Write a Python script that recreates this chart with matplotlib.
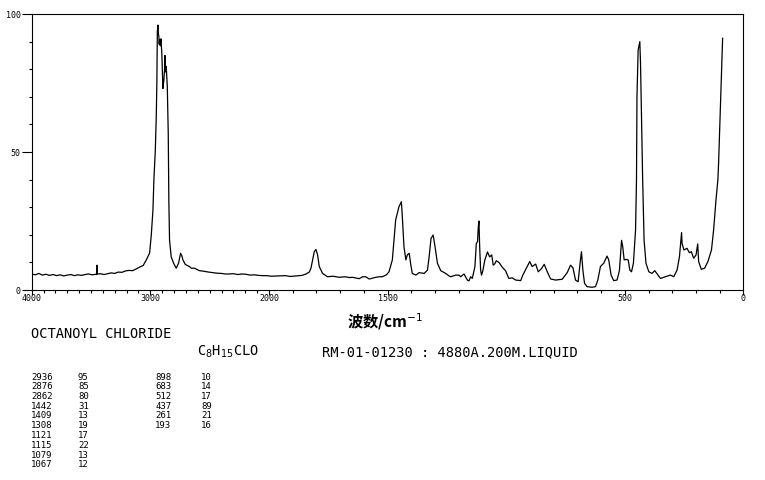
import numpy as np
import matplotlib
matplotlib.use("Agg")
import matplotlib.pyplot as plt
from matplotlib.ticker import FixedLocator, FixedFormatter

# ---------------- data ----------------
wavenumber = [
    4000, 3970, 3940, 3910, 3880, 3850, 3820, 3790, 3760, 3730, 3700, 3670, 3640, 3610,
    3580, 3550, 3520, 3490, 3460, 3452, 3449, 3446, 3420, 3390, 3360, 3330, 3300, 3270,
    3240, 3210, 3180, 3150, 3120, 3090, 3060, 3034, 3006, 2992, 2978, 2970, 2958, 2950,
    2945, 2941, 2936, 2932, 2928, 2925, 2922, 2916, 2911, 2903, 2894, 2886, 2880, 2877,
    2872, 2866, 2857, 2849, 2844, 2838, 2824, 2804, 2782, 2762, 2745, 2735, 2726, 2706,
    2690, 2670, 2655, 2628, 2586, 2550, 2510, 2474, 2440, 2400, 2370, 2334, 2300, 2260,
    2230, 2193, 2160, 2120, 2090, 2054, 2020, 1990, 1957, 1930, 1910, 1886, 1860, 1844,
    1830, 1823, 1816, 1809, 1802, 1795, 1788, 1774, 1753, 1730, 1704, 1680, 1660, 1648,
    1620, 1605, 1592, 1578, 1571, 1555, 1536, 1522, 1505, 1494, 1480, 1466, 1452, 1442,
    1438, 1431, 1423, 1417, 1409, 1402, 1396, 1381, 1367, 1346, 1332, 1325, 1317, 1308,
    1300, 1290, 1276, 1255, 1241, 1234, 1213, 1199, 1192, 1178, 1164, 1157, 1150, 1143,
    1136, 1132, 1126, 1121, 1118, 1115, 1112, 1108, 1104, 1098, 1090, 1079, 1070, 1061,
    1055, 1048, 1042, 1031, 1017, 1003, 989, 975, 960, 939, 930, 916, 901, 891,
    876, 865, 851, 840, 827, 813, 792, 764, 743, 729, 719, 708, 697, 688,
    683, 677, 670, 659, 638, 624, 614, 603, 589, 575, 568, 558, 547, 533,
    523, 514, 509, 503, 495, 486, 479, 472, 464, 455, 451, 449, 444, 437,
    434, 430, 425, 419, 411, 399, 386, 374, 360, 350, 329, 308, 294, 280,
    270, 261, 259, 251, 238, 228, 220, 210, 200, 193, 189, 178, 164, 150,
    135, 126, 116, 108, 105, 96, 88,
]
intensity = [
    5.8, 5.5, 6.0, 5.4, 5.7, 5.3, 5.6, 5.2, 5.5, 5.1, 5.4, 5.6, 5.2, 5.5,
    5.3, 5.6, 5.8, 5.5, 5.7, 5.6, 9.0, 5.8, 5.9, 5.6, 5.9, 6.2, 6.0, 6.5,
    6.4, 6.9, 7.1, 7.0, 7.6, 8.3, 8.9, 10.9, 13.4, 19.9, 29.0, 39.9, 50.7, 62.8,
    75.0, 93.6, 96.0, 93.0, 91.8, 89.0, 90.6, 88.5, 91.0, 85.8, 73.0, 76.0, 80.0, 85.0,
    79.0, 81.0, 73.7, 56.8, 32.6, 18.0, 12.0, 9.7, 7.9, 9.7, 13.3, 12.5, 11.0, 9.3,
    8.9, 8.5, 7.9, 7.9, 7.0, 6.8, 6.5, 6.3, 6.1, 6.0, 5.8, 5.8, 5.9, 5.6,
    5.8, 5.7, 5.4, 5.5, 5.3, 5.2, 5.2, 5.0, 5.1, 5.2, 4.9, 5.1, 5.3, 5.8,
    6.5, 7.9, 10.9, 13.9, 14.7, 12.7, 8.5, 6.0, 4.8, 5.0, 4.6, 4.8, 4.5, 4.6,
    4.1, 4.8, 4.8, 4.0, 4.1, 4.5, 4.8, 4.8, 5.5, 6.6, 10.9, 25.4, 30.2, 32.0,
    26.6, 15.7, 10.9, 12.7, 13.3, 9.0, 6.0, 5.4, 6.3, 6.0, 7.2, 12.0, 18.7, 19.9,
    15.7, 9.7, 7.0, 6.0, 5.1, 4.8, 5.4, 5.4, 4.8, 5.8, 3.6, 3.3, 4.8, 4.2,
    7.0, 8.5, 16.9, 17.5, 22.5, 25.0, 15.7, 7.2, 5.4, 7.2, 10.9, 13.8, 12.0, 12.7,
    9.0, 9.5, 10.6, 10.0, 8.3, 7.0, 4.2, 4.4, 3.6, 3.4, 5.4, 7.8, 10.3, 8.5,
    9.4, 6.6, 7.8, 9.3, 6.6, 4.0, 3.6, 3.9, 6.3, 9.0, 8.1, 3.6, 3.0, 10.3,
    13.9, 7.2, 2.4, 1.2, 1.0, 1.2, 3.6, 8.5, 9.7, 12.3, 10.9, 5.4, 3.4, 3.6,
    7.0, 18.0, 15.7, 10.9, 11.1, 10.9, 7.2, 6.6, 9.7, 21.7, 39.9, 70.0, 87.0, 90.0,
    82.0, 64.0, 39.9, 18.0, 9.7, 6.6, 6.0, 7.0, 5.4, 4.2, 4.8, 5.4, 4.8, 7.2,
    12.0, 20.8, 16.9, 14.5, 15.1, 13.5, 13.9, 11.5, 12.7, 16.7, 10.3, 7.5, 7.9, 10.3,
    14.5, 21.7, 32.6, 39.9, 45.9, 70.0, 91.2,
]

x_major_ticks = [4000, 3000, 2000, 1500, 500, 0]
x_major_labels = ["4000", "3000", "2000", "1500", "500", "0"]
y_major_ticks = [0, 50, 100]
y_major_labels = ["0", "50", "100"]

compound = "OCTANOYL CHLORIDE"
formula = r"C$_8$H$_{15}$CLO"
sample_info = "RM-01-01230 : 4880A.200M.LIQUID"
xlabel = "波数/cm$^{-1}$"

peak_wn_1 = ["2936", "2876", "2862", "1442", "1409", "1308", "1121", "1115", "1079", "1067"]
peak_int_1 = ["95", "85", "80", "31", "13", "19", "17", "22", "13", "12"]
peak_wn_2 = ["898", "683", "512", "437", "261", "193"]
peak_int_2 = ["10", "14", "17", "89", "21", "16"]

# ---------------- figure ----------------
W, H = 765, 480
fig = plt.figure(figsize=(W / 100, H / 100), dpi=100)
fig.patch.set_facecolor("white")

left_px, right_px, top_px, bot_px = 31.7, 743.5, 14, 290
ax = fig.add_axes([left_px / W, 1 - bot_px / H, (right_px - left_px) / W, (bot_px - top_px) / H])


def fwd(x):
    x = np.asarray(x, dtype=float)
    return np.where(x > 2000, 2000 + (x - 2000) / 2.0, x)


def inv(u):
    u = np.asarray(u, dtype=float)
    return np.where(u > 2000, 2000 + (u - 2000) * 2.0, u)


ax.set_xscale("function", functions=(fwd, inv))
ax.plot(wavenumber, intensity, color="black", lw=0.9)
ax.set_xlim(4000, 0)
ax.set_ylim(0, 100)

mono = "DejaVu Sans Mono"
ax.xaxis.set_major_locator(FixedLocator(x_major_ticks))
ax.xaxis.set_major_formatter(FixedFormatter(x_major_labels))
ax.xaxis.set_minor_locator(FixedLocator([v for v in range(100, 4000, 100) if v not in x_major_ticks]))
ax.yaxis.set_major_locator(FixedLocator(y_major_ticks))
ax.yaxis.set_major_formatter(FixedFormatter(y_major_labels))
ax.yaxis.set_minor_locator(FixedLocator([v for v in range(10, 100, 10) if v != 50]))

ax.tick_params(axis="x", which="major", direction="out", length=3.8, width=0.8, pad=-1.0,
               labelsize=6)
ax.tick_params(axis="x", which="minor", direction="out", length=2.0, width=0.8)
ax.tick_params(axis="y", which="major", direction="out", length=7.0, width=0.8, pad=0.8,
               labelsize=6)
ax.tick_params(axis="y", which="minor", direction="out", length=2.2, width=0.8)
for lab in ax.get_xticklabels() + ax.get_yticklabels():
    lab.set_fontfamily(mono)
for sp in ax.spines.values():
    sp.set_linewidth(0.8)
    sp.set_color("black")

# x label
fig.text(385 / W, 1 - 322 / H, xlabel, ha="center", va="center", fontsize=11,
         family=["Noto Sans CJK SC", "DejaVu Sans"], weight="bold")

# annotation texts
fig.text(31 / W, 1 - 334 / H, compound, ha="left", va="center", fontsize=9.9, family=mono)
fig.text(197 / W, 1 - 352 / H, formula, ha="left", va="center", fontsize=9.9, family=mono)
fig.text(322 / W, 1 - 352 / H, sample_info, ha="left", va="center", fontsize=9.9, family=mono)

row0, dy = 377, 9.75
for i, (w, v) in enumerate(zip(peak_wn_1, peak_int_1)):
    y = 1 - (row0 + i * dy) / H
    fig.text(31 / W, y, w, ha="left", va="center", fontsize=6.5, family=mono)
    fig.text(78 / W, y, v, ha="left", va="center", fontsize=6.5, family=mono)
for i, (w, v) in enumerate(zip(peak_wn_2, peak_int_2)):
    y = 1 - (row0 + i * dy) / H
    fig.text(155 / W, y, w, ha="left", va="center", fontsize=6.5, family=mono)
    fig.text(201 / W, y, v, ha="left", va="center", fontsize=6.5, family=mono)

fig.savefig("out.png", dpi=100, facecolor="white")
